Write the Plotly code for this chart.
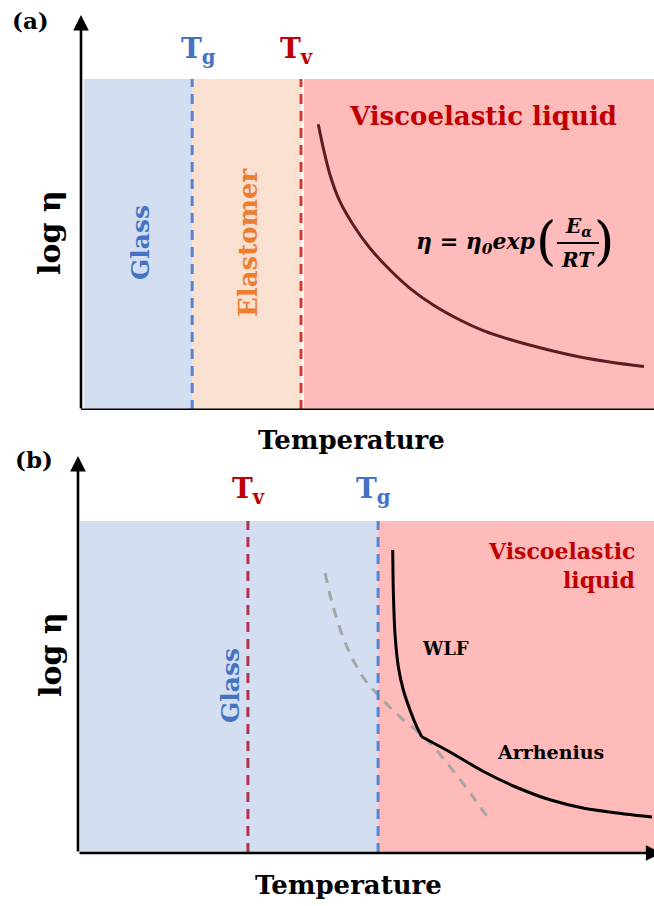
import plotly.graph_objects as go

W, H = 654, 906

# ---- panel (a): viscoelastic liquid following Arrhenius ----
a_regions = ["Glass", "Elastomer", "Viscoelastic liquid"]
a_bounds = [0.5, 19.4, 38.4, 38.9, 100.0]   # glass start, Tg, Tv, liquid start, end
a_top = 8.38
a_T = [41.41, 42.29, 43.46, 45.20, 47.52, 50.44, 53.93, 57.42, 61.48, 66.14,
       70.21, 74.87, 81.33, 87.09, 92.84, 98.25]
a_logeta = [7.233, 6.625, 5.949, 5.273, 4.684, 4.094, 3.544, 3.081, 2.658, 2.278,
            2.010, 1.785, 1.532, 1.342, 1.203, 1.101]

# ---- panel (b): WLF near Tg, Arrhenius above ----
b_bounds = [0.35, 29.5, 52.1, 100.0]         # glass start, Tv, Tg, end
b_top = 8.36
wlf_T = [54.64, 54.74, 55.03, 55.61, 56.48, 57.64, 58.80, 59.67]
wlf_logeta = [7.632, 6.625, 5.534, 4.693, 4.106, 3.602, 3.181, 2.929]
arr_T = [59.67, 64.58, 70.31, 76.22, 81.94, 87.67, 93.58, 99.65]
arr_logeta = [2.929, 2.544, 2.060, 1.650, 1.340, 1.134, 1.008, 0.907]
ext_T = [42.9, 44.3, 46.7, 49.5, 52.1, 55.9, 60.6, 64.6, 68.6, 71.2]
ext_logeta = [7.05, 6.20, 5.19, 4.43, 3.98, 3.43, 2.85, 2.17, 1.41, 0.88]

C_GLASS_BG = "#d3dff0"
C_ELAST_BG = "#f9e0d0"
C_LIQ_BG = "#ffbaba"
C_BLUE = "#4472c4"
C_RED = "#c00000"
C_ORANGE = "#ed7d31"
C_TG = "#5585d0"
C_TV_A = "#d43a30"
C_TV_B = "#b0344a"
FONT = "DejaVu Serif"


def px(x):
    return x / W


def py(y):
    return 1 - y / H


fig = go.Figure()

fig.add_trace(go.Scatter(x=a_T, y=a_logeta, mode="lines", xaxis="x", yaxis="y",
                         line=dict(color="#5a1e22", width=3, shape="spline", smoothing=0.8),
                         hoverinfo="skip", showlegend=False))
fig.add_trace(go.Scatter(x=ext_T, y=ext_logeta, mode="lines", xaxis="x2", yaxis="y2",
                         line=dict(color="#a6a6a6", width=3, dash="10px,8px", shape="spline"),
                         hoverinfo="skip", showlegend=False))
fig.add_trace(go.Scatter(x=wlf_T, y=wlf_logeta, mode="lines", xaxis="x2", yaxis="y2",
                         line=dict(color="black", width=3, shape="spline", smoothing=0.8),
                         hoverinfo="skip", showlegend=False))
fig.add_trace(go.Scatter(x=arr_T, y=arr_logeta, mode="lines", xaxis="x2", yaxis="y2",
                         line=dict(color="black", width=3, shape="spline", smoothing=0.8),
                         hoverinfo="skip", showlegend=False))

shapes = []
# background regions (a)
shapes.append(dict(type="rect", xref="x", yref="y", x0=a_bounds[0], x1=a_bounds[1], y0=0, y1=a_top,
                   fillcolor=C_GLASS_BG, line_width=0, layer="below"))
shapes.append(dict(type="rect", xref="x", yref="y", x0=a_bounds[1], x1=a_bounds[2], y0=0, y1=a_top,
                   fillcolor=C_ELAST_BG, line_width=0, layer="below"))
shapes.append(dict(type="rect", xref="x", yref="y", x0=a_bounds[3], x1=a_bounds[4], y0=0, y1=a_top,
                   fillcolor=C_LIQ_BG, line_width=0, layer="below"))
shapes.append(dict(type="line", xref="x", yref="y", x0=a_bounds[1], x1=a_bounds[1], y0=0, y1=a_top,
                   line=dict(color=C_TG, width=3, dash="10px,7px")))
shapes.append(dict(type="line", xref="x", yref="y", x0=a_bounds[2], x1=a_bounds[2], y0=0, y1=a_top,
                   line=dict(color=C_TV_A, width=3, dash="10px,7px")))
# horizontal axis (a)
shapes.append(dict(type="line", xref="x", yref="y", x0=0, x1=100, y0=0, y1=0,
                   line=dict(color="black", width=3)))
# background regions (b)
shapes.append(dict(type="rect", xref="x2", yref="y2", x0=b_bounds[0], x1=b_bounds[2], y0=0, y1=b_top,
                   fillcolor=C_GLASS_BG, line_width=0, layer="below"))
shapes.append(dict(type="rect", xref="x2", yref="y2", x0=b_bounds[2], x1=b_bounds[3], y0=0, y1=b_top,
                   fillcolor=C_LIQ_BG, line_width=0, layer="below"))
shapes.append(dict(type="line", xref="x2", yref="y2", x0=b_bounds[1], x1=b_bounds[1], y0=0, y1=b_top,
                   line=dict(color=C_TV_B, width=3, dash="10px,7px")))
shapes.append(dict(type="line", xref="x2", yref="y2", x0=b_bounds[2], x1=b_bounds[2], y0=0, y1=b_top,
                   line=dict(color=C_TG, width=3, dash="10px,7px")))

# fraction bar of the Arrhenius expression
shapes.append(dict(type="line", xref="paper", yref="paper", x0=px(557), x1=px(599),
                   y0=py(243), y1=py(243), line=dict(color="black", width=2)))

ann = []
# axis arrows
ann.append(dict(xref="x", yref="y", axref="x", ayref="y", x=0, y=10, ax=0, ay=0, text="",
                showarrow=True, arrowhead=2, arrowsize=1.2, arrowwidth=2.6, arrowcolor="black", standoff=0))
ann.append(dict(xref="x2", yref="y2", axref="x2", ayref="y2", x=0, y=10, ax=0, ay=0, text="",
                showarrow=True, arrowhead=2, arrowsize=1.2, arrowwidth=2.6, arrowcolor="black", standoff=0))
ann.append(dict(xref="x2", yref="y2", axref="x2", ayref="y2", x=101.3, y=0, ax=0, ay=0, text="",
                showarrow=True, arrowhead=2, arrowsize=1.2, arrowwidth=2.6, arrowcolor="black", standoff=0))


def label(text, x, y, size, color="black", angle=0, xanchor="center", style="normal", weight="bold"):
    ann.append(dict(xref="paper", yref="paper", x=px(x), y=py(y), text=text, showarrow=False,
                    xanchor=xanchor, yanchor="middle", textangle=angle,
                    font=dict(family=FONT, size=size, color=color, weight=weight, style=style)))


label("(a)", 30, 20, 23)
label("(b)", 34, 459, 23)
label("T<sub>g</sub>", 198, 51, 28, C_BLUE)
label("T<sub>v</sub>", 296, 51, 28, C_RED)
label("T<sub>v</sub>", 248, 490, 28, C_RED)
label("T<sub>g</sub>", 373, 490, 28, C_BLUE)
label("log η", 50, 233, 30, angle=-90)
label("log η", 50, 655, 30, angle=-90)
label("Temperature", 351, 440, 26)
label("Temperature", 348, 885, 26)
label(a_regions[0], 141, 243, 25, C_BLUE, angle=-90)
label(a_regions[1], 248, 243, 26, C_ORANGE, angle=-90)
label(a_regions[2], 483, 116, 26, C_RED)
label("Glass", 230, 686, 25, C_BLUE, angle=-90)
label("Viscoelastic", 637, 551, 22, C_RED, xanchor="right")
label("liquid", 637, 580, 22, C_RED, xanchor="right")
label("WLF", 445, 648, 18)
label("Arrhenius", 550, 752, 19)
# η = η0 exp(Eα / RT)
label("η = η<sub>0</sub>exp", 414, 243, 22, style="italic", xanchor="left")
label("(", 546, 241, 52, weight="normal")
label(")", 604, 241, 52, weight="normal")
label("E<sub>α</sub>", 578, 227, 20, style="italic")
label("RT", 578, 260, 20, style="italic")

fig.update_layout(
    width=W, height=H, margin=dict(l=0, r=0, t=0, b=0),
    paper_bgcolor="white", plot_bgcolor="rgba(0,0,0,0)",
    xaxis=dict(domain=[px(81), 1], range=[0, 100], visible=False, anchor="y", fixedrange=True),
    yaxis=dict(domain=[py(410), py(15)], range=[0, 10], visible=False, anchor="x", fixedrange=True),
    xaxis2=dict(domain=[px(78), 1], range=[0, 100], visible=False, anchor="y2", fixedrange=True),
    yaxis2=dict(domain=[py(853), py(456)], range=[0, 10], visible=False, anchor="x2", fixedrange=True),
    shapes=shapes, annotations=ann, showlegend=False,
)

fig.write_html("out.html", config={"displayModeBar": False})
